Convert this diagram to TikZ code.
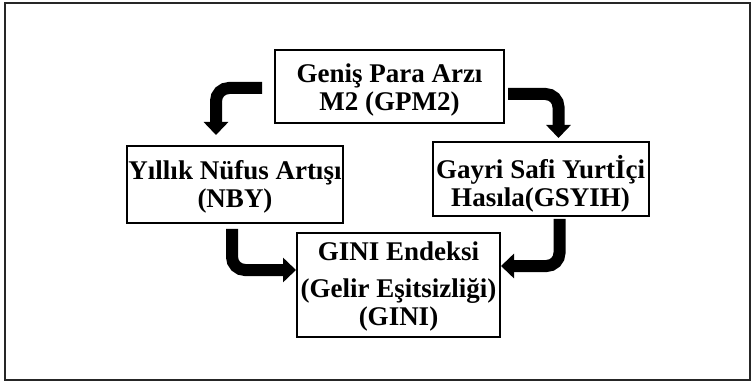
\documentclass[tikz,border=0pt]{standalone}
\usepackage{fontspec}
\setmainfont{Liberation Serif}
\usetikzlibrary{arrows.meta}
\begin{document}
\begin{tikzpicture}[x=1pt,y=-1pt,
  box/.style={draw, line width=2pt, inner sep=0pt},
  boxtext/.style={align=center, inner sep=0pt,
    font=\fontsize{27}{28}\selectfont\bfseries},
  bigarrow/.style={line width=12pt, rounded corners=13pt,
    -{Triangle[width=24pt,length=13pt]}}]
\useasboundingbox (0,0) rectangle (755,382);
\draw[line width=1.5pt, black!85] (5,3) rectangle (750,380);
\node[box, minimum width=229pt, minimum height=73pt] (gpm) at (389.5,86.5) {};
\node[box, minimum width=216pt, minimum height=77pt] (nby) at (235,184.5) {};
\node[box, minimum width=216pt, minimum height=74pt] (gsy) at (540.5,179) {};
\node[box, minimum width=203pt, minimum height=104pt] (gini) at (398.5,285) {};
\node[boxtext] (gpmt) at ([yshift=-4pt]gpm.center) {Geniş Para Arzı\\M2 (GPM2)};
\node[boxtext] (nbyt) at ([yshift=-2pt]nby.center) {Yıllık Nüfus Artışı\\(NBY)};
\node[boxtext] (gsyt) at ([yshift=-5pt]gsy.center) {Gayri Safi Yurtİçi\\Hasıla(GSYIH)};
\node[boxtext] (ginit) at ([yshift=-2pt]gini.center) {GINI Endeksi\\[9pt](Gelir Eşitsizliği)\\(GINI)};
\draw[bigarrow] ([xshift=-12pt,yshift=-1.5pt]gpm.west) -| ([xshift=90pt,yshift=10pt]nby.north west);
\draw[bigarrow] ([xshift=3pt,yshift=-7.5pt]gpm.east) -| ([xshift=127pt,yshift=3pt]gsy.north west);
\draw[bigarrow] ([xshift=106pt,yshift=-5pt]nby.south west) |- ([yshift=-38pt]gini.north west);
\draw[bigarrow] ([xshift=128pt,yshift=-2pt]gsy.south west) |- ([yshift=-34pt]gini.north east);
\end{tikzpicture}
\end{document}
